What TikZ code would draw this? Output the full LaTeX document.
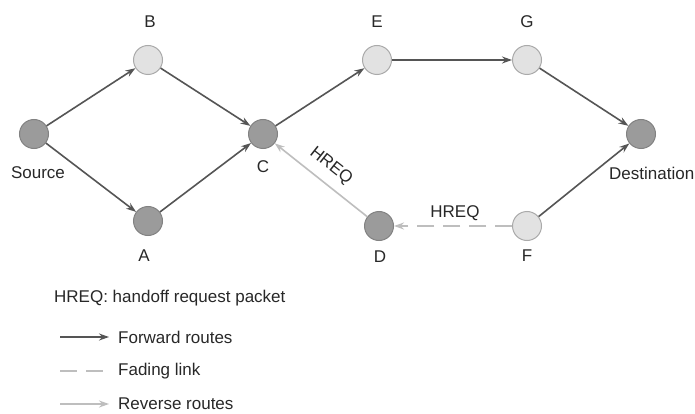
\documentclass[tikz,border=0pt]{standalone}
\usepackage{fontspec}
\setmainfont{Liberation Sans}
\usetikzlibrary{arrows.meta}
\definecolor{darkfill}{RGB}{155,155,155}
\definecolor{darkedge}{RGB}{130,130,130}
\definecolor{lightfill}{RGB}{226,226,226}
\definecolor{lightedge}{RGB}{170,170,170}
\definecolor{fwd}{RGB}{85,85,85}
\definecolor{rev}{RGB}{190,190,190}
\definecolor{txt}{RGB}{40,40,40}
\tikzset{
  x=1pt, y=-1pt,
  darknode/.style={circle, minimum size=29pt, inner sep=0pt, fill=darkfill, draw=darkedge, line width=1pt},
  lightnode/.style={circle, minimum size=29pt, inner sep=0pt, fill=lightfill, draw=lightedge, line width=1pt},
  lbl/.style={text=txt, font=\fontsize{17}{19}\selectfont, inner sep=0pt},
  fwdarrow/.style={draw=fwd, line width=1.6pt, -{Stealth[length=10pt,width=7pt]}},
  revarrow/.style={draw=rev, line width=1.6pt, -{Stealth[length=10pt,width=7pt]}},
  fadelink/.style={draw=rev, line width=1.6pt, dash pattern=on 17pt off 9pt},
}
\begin{document}
\begin{tikzpicture}
\useasboundingbox (0,0) rectangle (695,414);
\fill[white] (0,0) rectangle (695,414);
% nodes
\node[darknode]  (S)  at (34,134) {};
\node[lightnode] (B)  at (148,60) {};
\node[darknode]  (A)  at (148,221) {};
\node[darknode]  (C)  at (263,134) {};
\node[lightnode] (E)  at (377,60) {};
\node[lightnode] (G)  at (527,60) {};
\node[darknode]  (T)  at (641,134) {};
\node[darknode]  (D)  at (379,226) {};
\node[lightnode] (F)  at (527,226) {};
% labels
\node[lbl] (lB) at (150,22) {B};
\node[lbl] (lE) at (377,22) {E};
\node[lbl] (lG) at (527,22) {G};
\node[lbl] (lS) at (38,173) {Source};
\node[lbl] (lC) at (263,167) {C};
\node[lbl] (lA) at (144,256) {A};
\node[lbl] (lD) at (380,257) {D};
\node[lbl] (lF) at (527,256) {F};
\node[lbl, anchor=west] (lT) at (609,173) {Destination};
% forward routes
\draw[fwdarrow] (S) -- (B);
\draw[fwdarrow] (S) -- (A);
\draw[fwdarrow] (B) -- (C);
\draw[fwdarrow] (A) -- (C);
\draw[fwdarrow] (C) -- (E);
\draw[fwdarrow] (E) -- (G);
\draw[fwdarrow] (G) -- (T);
\draw[fwdarrow] (F) -- (T);
% reverse routes
\draw[revarrow] (D) -- (C);
\draw[revarrow, dash pattern=on 17pt off 9pt] (F) -- (D);
\node[lbl, rotate=-38.4] (h1) at (331,166) {HREQ};
\node[lbl] (h2) at (455,213) {HREQ};
% legend
\node[lbl, anchor=west] (lg0) at (54,298) {HREQ: handoff request packet};
\coordinate (f1) at (60,337); \coordinate (f2) at (109,337);
\coordinate (d1) at (60,371); \coordinate (d2) at (109,371);
\coordinate (r1) at (60,404); \coordinate (r2) at (109,404);
\draw[fwdarrow] (f1) -- (f2);
\draw[fadelink] (d1) -- (d2);
\draw[revarrow] (r1) -- (r2);
\node[lbl, anchor=west] (lg1) at (118,337) {Forward routes};
\node[lbl, anchor=west] (lg2) at (118,371) {Fading link};
\node[lbl, anchor=west] (lg3) at (118,404) {Reverse routes};
\end{tikzpicture}
\end{document}
